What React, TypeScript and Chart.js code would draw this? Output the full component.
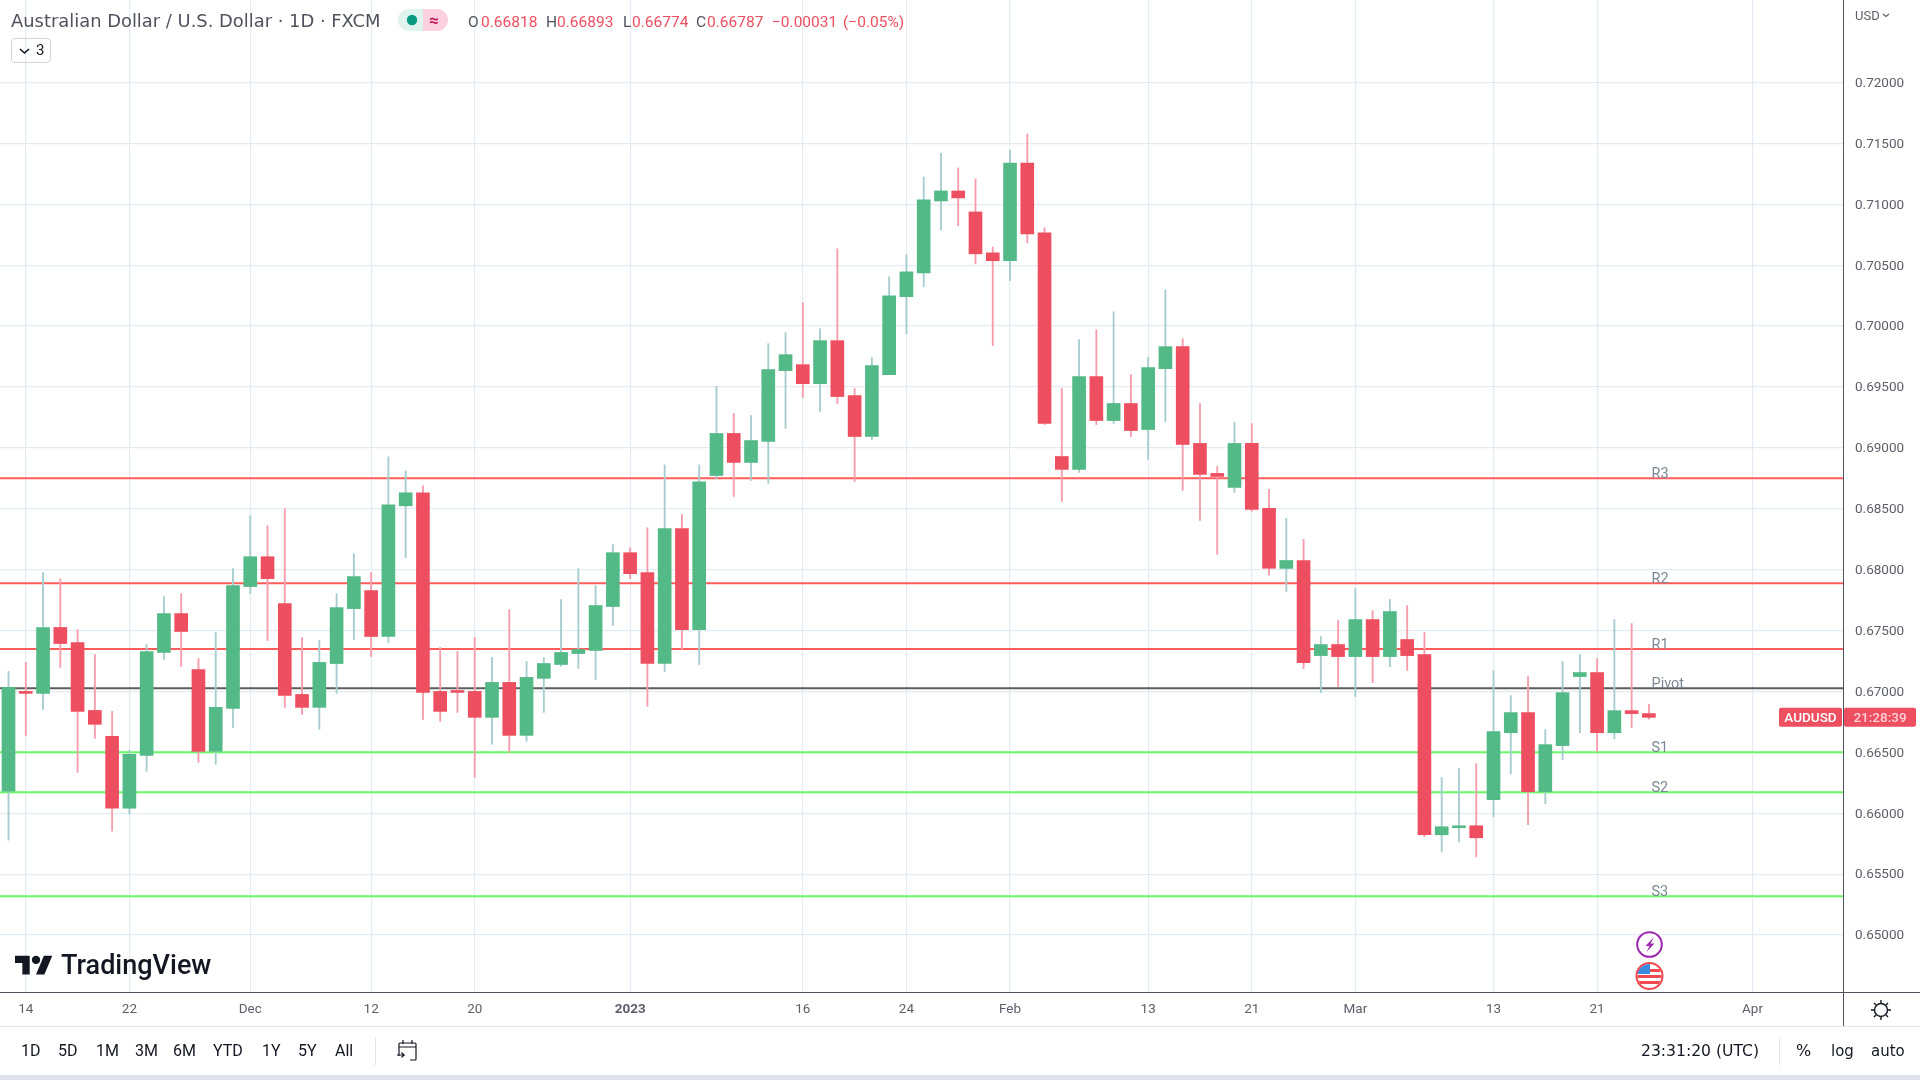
import React, { useEffect, useRef } from 'react'
import { Chart, registerables, type ChartConfiguration, type Plugin } from 'chart.js'

Chart.register(...registerables)

const opens = [
  0.6618, 0.67, 0.66984, 0.67525, 0.67402, 0.66844, 0.66631, 0.66041, 0.66475, 0.6732,
  0.67639, 0.6718, 0.66508, 0.66861, 0.67861, 0.68106, 0.67721, 0.66975, 0.66869, 0.67229,
  0.6768, 0.67828, 0.67451, 0.68524, 0.68631, 0.67, 0.67008, 0.67, 0.66787, 0.67074,
  0.66639, 0.67107, 0.67221, 0.67311, 0.67336, 0.67697, 0.68139, 0.67975, 0.67229, 0.68336,
  0.67508, 0.68773, 0.69118, 0.6888, 0.69052, 0.69634, 0.69683, 0.69527, 0.6988, 0.69429,
  0.69093, 0.69601, 0.70241, 0.70437, 0.71027, 0.71109, 0.70937, 0.70601, 0.70536, 0.71339,
  0.70765, 0.68929, 0.68823, 0.69585, 0.69224, 0.69364, 0.6915, 0.6965, 0.69831, 0.69036,
  0.6879, 0.68675, 0.69036, 0.68503, 0.6801, 0.68075, 0.67294, 0.67385, 0.67286, 0.6759,
  0.67286, 0.67426, 0.67303, 0.65823, 0.65881, 0.65897, 0.66111, 0.66661, 0.66826, 0.66176,
  0.66555, 0.67122, 0.67155, 0.66661, 0.66842, 0.66818,
]
const highs = [
  0.67164, 0.67238, 0.67975, 0.67926, 0.67508, 0.67303, 0.66836, 0.66516, 0.67385, 0.67779,
  0.67803, 0.6727, 0.67484, 0.68008, 0.68442, 0.68361, 0.685, 0.67443, 0.67418, 0.67803,
  0.68131, 0.67975, 0.68926, 0.68811, 0.68688, 0.67361, 0.67328, 0.67443, 0.67279, 0.67672,
  0.67246, 0.67279, 0.67754, 0.68008, 0.67869, 0.68205, 0.6818, 0.68344, 0.6886, 0.68451,
  0.6886, 0.69503, 0.69282, 0.69265, 0.69855, 0.69946, 0.70191, 0.69978, 0.70634, 0.69487,
  0.69741, 0.70404, 0.70585, 0.71224, 0.71421, 0.71298, 0.71208, 0.7065, 0.71445, 0.71576,
  0.70806, 0.69487, 0.69888, 0.6997, 0.70118, 0.69601, 0.69741, 0.70298, 0.69896, 0.69364,
  0.68847, 0.69208, 0.692, 0.68659, 0.68421, 0.68248, 0.67451, 0.67582, 0.67845, 0.67664,
  0.67755, 0.67705, 0.67483, 0.66292, 0.66366, 0.66407, 0.67171, 0.66966, 0.67122, 0.66686,
  0.67245, 0.67303, 0.6727, 0.6759, 0.67557, 0.66893,
]
const lows = [
  0.65779, 0.66639, 0.66852, 0.67197, 0.66336, 0.66615, 0.65853, 0.65995, 0.66344, 0.67262,
  0.67205, 0.66418, 0.66402, 0.66705, 0.67803, 0.67418, 0.66869, 0.66811, 0.66689, 0.66984,
  0.67426, 0.67287, 0.67402, 0.68098, 0.66771, 0.66754, 0.66828, 0.66295, 0.66566, 0.665,
  0.6659, 0.66828, 0.67205, 0.67189, 0.67098, 0.67541, 0.67926, 0.66877, 0.67164, 0.67344,
  0.67221, 0.68749, 0.68601, 0.68732, 0.68708, 0.69159, 0.69413, 0.69298, 0.69364, 0.68724,
  0.69069, 0.69601, 0.69937, 0.70323, 0.7079, 0.70822, 0.70511, 0.69839, 0.70372, 0.70683,
  0.69191, 0.6856, 0.68798, 0.69191, 0.692, 0.69093, 0.68905, 0.69216, 0.68651, 0.68405,
  0.68126, 0.68634, 0.68478, 0.67954, 0.6782, 0.67188, 0.6699, 0.6704, 0.66957, 0.67072,
  0.67204, 0.67171, 0.65807, 0.65683, 0.65765, 0.65642, 0.65971, 0.66324, 0.65905, 0.66078,
  0.6644, 0.66661, 0.66505, 0.66612, 0.66703, 0.66774,
]
const closes = [
  0.67033, 0.66984, 0.67525, 0.67393, 0.66836, 0.6673, 0.66041, 0.66484, 0.67328, 0.67639,
  0.67492, 0.66508, 0.66869, 0.67869, 0.68106, 0.67926, 0.66967, 0.66869, 0.67238, 0.67688,
  0.67943, 0.67451, 0.68533, 0.68631, 0.66992, 0.66836, 0.66992, 0.66787, 0.67074, 0.66639,
  0.67115, 0.67229, 0.6732, 0.67344, 0.67705, 0.68139, 0.67967, 0.67229, 0.68336, 0.67508,
  0.68721, 0.69118, 0.6888, 0.6906, 0.69642, 0.69765, 0.69527, 0.6988, 0.69421, 0.69093,
  0.69675, 0.70249, 0.70445, 0.71036, 0.71109, 0.71052, 0.70593, 0.70536, 0.71339, 0.70757,
  0.692, 0.68823, 0.69585, 0.69224, 0.69364, 0.69142, 0.69659, 0.69831, 0.69028, 0.68782,
  0.68765, 0.69036, 0.68495, 0.68011, 0.68075, 0.67237, 0.67385, 0.67286, 0.6759, 0.67286,
  0.67656, 0.67294, 0.65823, 0.65889, 0.65897, 0.65798, 0.6667, 0.66826, 0.66176, 0.66563,
  0.6699, 0.67155, 0.66661, 0.66842, 0.66818, 0.66787,
]

const pivotNames = ['R3', 'R2', 'R1', 'Pivot', 'S1', 'S2', 'S3']
const pivotValues = [0.6875, 0.67888, 0.67348, 0.67025, 0.665, 0.66172, 0.65318]
const pivotColors = ['#ff5c5c', '#ff5c5c', '#ff5c5c', '#5d5d5d', '#66fb66', '#66fb66', '#66fb66']

const priceTicks = [
  0.65, 0.655, 0.66, 0.665, 0.67, 0.675, 0.68, 0.685, 0.69, 0.695, 0.7, 0.705, 0.71, 0.715, 0.72,
]
const timeTicks = [1, 7, 14, 21, 27, 36, 46, 52, 58, 66, 72, 78, 86, 92, 101]
const timeLabels = ['14', '22', 'Dec', '12', '20', '2023', '16', '24', 'Feb', '13', '21', 'Mar', '13', '21', 'Apr']

const GREEN = '#53b987'
const RED = '#ed4f60'
const GREEN_WICK = '#a6cccd'
const RED_WICK = '#f59dab'
const GRID = '#e3ecf2'
const FONT = 'Roboto, sans-serif'
const DEJAVU = "'DejaVu Sans', sans-serif"

const xMin = -0.493
const xMax = 106.24

// pivot names and the AUDUSD price tag depend on the scales, so they are painted here
const overlayPlugin: Plugin = {
  id: 'overlay',
  afterDatasetsDraw(chart) {
    const { ctx, scales } = chart
    ctx.save()
    ctx.font = `14.5px ${FONT}`
    ctx.fillStyle = '#7b8794'
    ctx.textAlign = 'left'
    ctx.textBaseline = 'alphabetic'
    pivotNames.forEach((name, i) => {
      ctx.fillText(name, scales.x.getPixelForValue(95.15), scales.y.getPixelForValue(pivotValues[i]) - 0.5)
    })
    const y = scales.y.getPixelForValue(closes[closes.length - 1])
    ctx.fillStyle = RED
    ctx.beginPath()
    ctx.roundRect(1779, y - 9.5, 63, 19, 2)
    ctx.roundRect(1844, y - 9.5, 72, 19, 2)
    ctx.fill()
    ctx.textBaseline = 'middle'
    ctx.textAlign = 'center'
    ctx.font = `500 13.5px ${FONT}`
    ctx.fillStyle = '#ffffff'
    ctx.fillText('AUDUSD', 1810.5, y + 1)
    ctx.fillStyle = '#ffd0d6'
    ctx.fillText('21:28:39', 1880, y + 1)
    ctx.restore()
  },
}

const ranges = ['1D', '5D', '1M', '3M', '6M', 'YTD', '1Y', '5Y', 'All']
const rangeLefts = [21, 58, 96, 135, 173, 213, 262, 298, 335]

function Txt({ x, y, size = 15.5, color = '#5d606b', font = FONT, weight = 400, children }: any) {
  return (
    <span style={{ position: 'absolute', left: x, top: y, fontSize: size, color, fontFamily: font, fontWeight: weight, lineHeight: '20px', whiteSpace: 'pre' }}>
      {children}
    </span>
  )
}

function Box({ x, y, w, h, color, radius = 0, border }: any) {
  return <div style={{ position: 'absolute', left: x, top: y, width: w, height: h, background: color, borderRadius: radius, border, boxSizing: 'border-box' }} />
}

function Icons() {
  return (
    <svg width={1920} height={1080} style={{ position: 'absolute', left: 0, top: 0 }}>
      {/* logo */}
      <g transform="translate(15,951.5) scale(1.05)" fill="#131722">
        <path d="M14 22H7V11H0V4h14v18zM28 22h-8l7.5-18h8L28 22z" />
        <circle cx="20" cy="8" r="4" />
      </g>
      {/* legend chevron */}
      <path d="M20 49l4.5 4 4.5-4" fill="none" stroke="#131722" strokeWidth="1.6" />
      {/* currency chevron */}
      <path d="M1883 14l3 2.5 3-2.5" fill="none" stroke="#5d606b" strokeWidth="1.3" />
      {/* status pill */}
      <path d="M423 9h-14a11 11 0 0 0 0 22h14z" fill="#dff3ef" />
      <path d="M423 9h14a11 11 0 0 1 0 22h-14z" fill="#fbd0df" />
      <circle cx="412" cy="20" r="5.2" fill="#089981" />
      {/* lightning event */}
      <circle cx="1649.5" cy="944.5" r="12.3" fill="#fff" stroke="#9c27b0" strokeWidth="2" />
      <path d="M1654 937l-8.5 9h4l-3 6 8-8.5h-4z" fill="#9c27b0" />
      {/* flag event */}
      <clipPath id="flagClip"><circle cx="1649.5" cy="976" r="12" /></clipPath>
      <circle cx="1649.5" cy="976" r="13" fill="#fff" stroke="#f04a50" strokeWidth="2" />
      <g clipPath="url(#flagClip)">
        <rect x="1637" y="969" width="26" height="3" fill="#f04a50" />
        <rect x="1637" y="975" width="26" height="3" fill="#f04a50" />
        <rect x="1637" y="981" width="26" height="3" fill="#f04a50" />
        <rect x="1637" y="963" width="13" height="11" fill="#3a8be0" />
      </g>
      {/* settings gear */}
      <circle cx="1881" cy="1010" r="6.5" fill="none" stroke="#131722" strokeWidth="1.4" />
      <path d="M1881 1000v3M1881 1017v3M1871 1010h3M1888 1010h3M1874 1003l2 2M1886 1015l2 2M1874 1017l2-2M1886 1005l2-2" stroke="#131722" strokeWidth="1.4" />
      {/* go to date */}
      <path d="M399 1056v-12a1 1 0 0 1 1-1h15a1 1 0 0 1 1 1v15a1 1 0 0 1-1 1h-5M399 1047h17M403 1040v4M412 1040v4M397 1055h7l-2.5-2.5M404 1055l-2.5 2.5" fill="none" stroke="#131722" strokeWidth="1.2" />
    </svg>
  )
}

export default function App() {
  const canvasRef = useRef<HTMLCanvasElement>(null)

  useEffect(() => {
    if (!canvasRef.current) return
    const up = closes.map((c, i) => c >= opens[i])

    const cfg: ChartConfiguration = {
      type: 'bar',
      data: {
        datasets: [
          {
            label: 'bodies',
            data: opens.map((o, i) => ({ x: i, y: [o, closes[i]] })) as any,
            backgroundColor: up.map(u => (u ? GREEN : RED)),
            barThickness: 13,
            grouped: false,
            order: 1,
          },
          {
            label: 'wicks',
            data: lows.map((l, i) => ({ x: i, y: [l, highs[i]] })) as any,
            backgroundColor: up.map(u => (u ? GREEN_WICK : RED_WICK)),
            barThickness: 1.2,
            grouped: false,
            order: 2,
          },
          ...pivotValues.map((v, i) => ({
            type: 'line' as const,
            label: pivotNames[i],
            data: [{ x: xMin, y: v }, { x: xMax, y: v }],
            borderColor: pivotColors[i],
            borderWidth: 2,
            pointRadius: 0,
            order: 3,
          })),
        ],
      },
      options: {
        responsive: false,
        animation: false,
        events: [],
        plugins: { legend: { display: false }, tooltip: { enabled: false } },
        layout: { padding: 0 },
        scales: {
          x: {
            type: 'linear',
            min: xMin,
            max: xMax,
            offset: false,
            border: { display: false },
            grid: { color: GRID, lineWidth: 1.2, drawTicks: false, offset: false },
            afterBuildTicks: axis => { axis.ticks = timeTicks.map(value => ({ value })) },
            afterFit: axis => { axis.height = 88; axis.paddingLeft = 0; axis.paddingRight = 0 },
            ticks: {
              autoSkip: false,
              maxRotation: 0,
              padding: 10,
              color: '#5d606b',
              font: ctx => ({ family: 'Roboto', size: 13.5, weight: ctx.tick?.value === 36 ? 'bold' : 'normal' }),
              callback: v => timeLabels[timeTicks.indexOf(Number(v))],
            },
          },
          y: {
            position: 'right',
            min: 0.64532,
            max: 0.72677,
            border: { display: false },
            grid: { color: GRID, lineWidth: 1.2, drawTicks: false },
            afterBuildTicks: axis => { axis.ticks = priceTicks.map(value => ({ value })) },
            afterFit: axis => { axis.width = 77; axis.paddingTop = 0; axis.paddingBottom = 0 },
            ticks: {
              padding: 12,
              labelOffset: 1,
              color: '#5d606b',
              font: { family: 'Roboto', size: 13.5 },
              callback: v => Number(v).toFixed(5),
            },
          },
        },
      },
      plugins: [overlayPlugin],
    }
    const chart = new Chart(canvasRef.current, cfg)
    return () => chart.destroy()
  }, [])

  return (
    <div style={{ position: 'fixed', left: 0, top: 0, width: 1920, height: 1080, background: '#fff', overflow: 'hidden' }}>
      <canvas ref={canvasRef} width={1920} height={1080} style={{ position: 'absolute', left: 0, top: 0, display: 'block' }} />

      {/* axis frame */}
      <Box x={1842.5} y={0} w={1.5} h={1026} color="#50535e" />
      <Box x={0} y={991.5} w={1920} h={1.5} color="#50535e" />
      <Box x={0} y={1025.5} w={1920} h={1.5} color="#e0e3eb" />
      <Box x={0} y={1075} w={1920} h={5} color="#e0e3eb" />
      <Box x={375} y={1037} w={1} h={28} color="#e0e3eb" />
      <Box x={1779} y={1037} w={1} h={28} color="#e0e3eb" />

      <Icons />

      {/* legend header */}
      <Txt x={11} y={11} size={17.9} color="#50535e" font={DEJAVU}>Australian Dollar / U.S. Dollar · 1D · FXCM</Txt>
      <Txt x={429} y={10} size={17} color="#c2185b" weight={700}>≈</Txt>
      <Txt x={468} y={12} color="#50535e">O</Txt>
      <Txt x={481} y={12} color={RED}>0.66818</Txt>
      <Txt x={546} y={12} color="#50535e">H</Txt>
      <Txt x={557} y={12} color={RED}>0.66893</Txt>
      <Txt x={623} y={12} color="#50535e">L</Txt>
      <Txt x={632} y={12} color={RED}>0.66774</Txt>
      <Txt x={696} y={12} color="#50535e">C</Txt>
      <Txt x={707} y={12} color={RED}>0.66787</Txt>
      <Txt x={772} y={12} color={RED}>−0.00031</Txt>
      <Txt x={843} y={12} color={RED}>(−0.05%)</Txt>

      <Box x={11} y={38} w={40} h={25} radius={4} border="1px solid #d1d4dc" />
      <Txt x={36} y={40} size={15} color="#131722">3</Txt>

      <Txt x={1855} y={6} size={13} color="#5d606b">USD</Txt>
      <Txt x={61} y={955} size={27} color="#131722" weight={500}>TradingView</Txt>

      {/* bottom toolbar */}
      {ranges.map((r, i) => (
        <Txt key={r} x={rangeLefts[i]} y={1041} size={16} color="#131722">{r}</Txt>
      ))}
      <Txt x={1641} y={1041} size={15.6} color="#131722" font={DEJAVU}>23:31:20 (UTC)</Txt>
      <Txt x={1796} y={1041} size={16} color="#131722" font={DEJAVU}>%</Txt>
      <Txt x={1831} y={1041} size={15} color="#131722" font={DEJAVU}>log</Txt>
      <Txt x={1871} y={1041} size={15} color="#131722" font={DEJAVU}>auto</Txt>
    </div>
  )
}
